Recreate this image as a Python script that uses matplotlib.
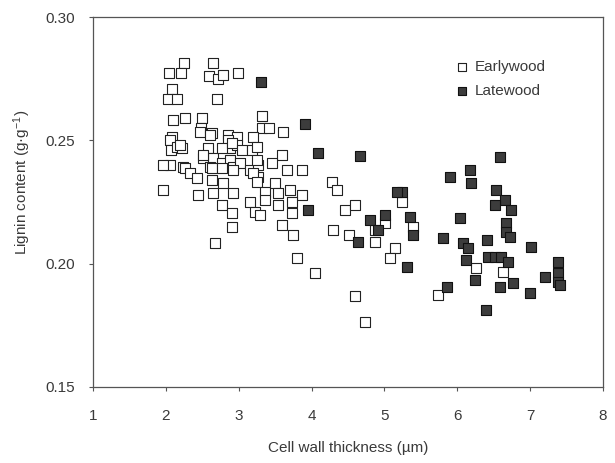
import matplotlib
matplotlib.use("Agg")
import matplotlib.pyplot as plt

plt.rcParams['font.family'] = ['Liberation Sans', 'DejaVu Sans']
plt.rcParams['mathtext.fontset'] = 'custom'
plt.rcParams['mathtext.rm'] = 'Liberation Sans'
plt.rcParams['mathtext.default'] = 'regular'

# Earlywood (open squares): cell wall thickness (um), lignin content (g/g)
ew_x = [2.244, 2.642, 2.047, 2.211, 2.591, 2.711, 2.787, 2.989, 2.084, 2.029,
        2.156, 2.705, 2.101, 2.266, 2.495, 2.477, 2.628, 2.856, 2.971, 2.080,
        3.314, 3.314, 3.418, 3.610, 3.199,
        2.056, 2.066, 2.156, 2.217, 2.056, 2.239, 2.582, 2.856, 2.879, 2.971,
        2.513, 2.650, 2.605, 2.765, 2.879, 2.925,
        2.193, 1.964, 2.262, 2.331, 2.422, 1.964, 2.444, 2.468, 2.605, 2.765,
        2.903, 3.040, 3.177, 2.513, 3.016, 2.628, 2.765, 2.925, 3.154, 3.268,
        2.628, 2.787, 2.925, 2.650, 2.765, 2.903, 2.903, 2.674, 3.154, 3.222,
        3.268,
        3.246, 3.246, 3.588, 3.451, 3.657, 3.863, 3.199, 3.246, 3.497, 3.359,
        3.542, 3.702, 3.863, 3.726, 3.359, 3.542, 3.726, 3.291, 3.588, 3.739,
        4.274, 4.343, 4.457, 4.594, 4.297, 4.512,
        3.794, 5.235, 4.868, 5.005, 5.394, 4.868, 5.143, 5.074, 6.263, 5.737,
        4.731, 4.590, 6.628, 4.050]
ew_y = [0.2816, 0.2816, 0.2773, 0.2773, 0.2762, 0.2749, 0.2766, 0.2773, 0.2710, 0.2667,
        0.2667, 0.2667, 0.2583, 0.2592, 0.2592, 0.2549, 0.2529, 0.2522, 0.2513, 0.2515,
        0.2600, 0.2549, 0.2549, 0.2536, 0.2515,
        0.2502, 0.2461, 0.2475, 0.2468, 0.2400, 0.2393, 0.2468, 0.2502, 0.2468, 0.2482,
        0.2428, 0.2428, 0.2393, 0.2407, 0.2421, 0.2393,
        0.2482, 0.2400, 0.2387, 0.2367, 0.2346, 0.2299, 0.2279, 0.2536, 0.2522, 0.2468,
        0.2488, 0.2461, 0.2461, 0.2441, 0.2407, 0.2387, 0.2387, 0.2380, 0.2380, 0.2400,
        0.2339, 0.2326, 0.2285, 0.2285, 0.2238, 0.2204, 0.2150, 0.2082, 0.2251, 0.2211,
        0.2353,
        0.2475, 0.2421, 0.2441, 0.2407, 0.2380, 0.2380, 0.2367, 0.2333, 0.2326, 0.2292,
        0.2285, 0.2299, 0.2279, 0.2251, 0.2258, 0.2238, 0.2204, 0.2197, 0.2157, 0.2118,
        0.2333, 0.2299, 0.2218, 0.2238, 0.2136, 0.2118,
        0.2021, 0.2251, 0.2136, 0.2164, 0.2150, 0.2089, 0.2062, 0.2021, 0.1981, 0.1872,
        0.1764, 0.1870, 0.1967, 0.1960]

# Latewood (filled squares)
lw_x = [3.300, 3.908, 4.091, 4.663, 3.953, 4.639, 4.800,
        6.171, 5.897, 6.195, 5.235, 5.170,
        4.914, 5.005, 5.348, 5.394, 5.303, 5.805, 6.034, 6.080, 6.148, 6.126,
        6.240, 5.852,
        6.583, 6.538, 6.652, 6.514, 6.743, 6.675, 6.675, 6.720, 6.401, 7.018,
        6.422, 6.514, 6.606, 6.697, 6.583, 6.765, 6.995, 7.383, 7.200, 7.383,
        7.383, 7.406, 6.400]
lw_y = [0.2739, 0.2568, 0.2448, 0.2437, 0.2218, 0.2089, 0.2177,
        0.2380, 0.2353, 0.2326, 0.2292, 0.2292,
        0.2136, 0.2197, 0.2190, 0.2118, 0.1987, 0.2103, 0.2184, 0.2082, 0.2062, 0.2015,
        0.1933, 0.1906,
        0.2434, 0.2299, 0.2258, 0.2238, 0.2218, 0.2164, 0.2130, 0.2109, 0.2096, 0.2069,
        0.2028, 0.2028, 0.2028, 0.2008, 0.1906, 0.1920, 0.1879, 0.2008, 0.1947, 0.1961,
        0.1927, 0.1913, 0.1810]

x_ticks = [1, 2, 3, 4, 5, 6, 7, 8]
y_ticks = [0.15, 0.20, 0.25, 0.30]
y_tick_labels = ["0.15", "0.20", "0.25", "0.30"]

txt = '#3a3a3a'
fig = plt.figure(figsize=(6.15, 4.63), dpi=100)
ax = fig.add_axes([93/615, 1 - 386.7/463, 510/615, (386.7 - 17.3)/463])

ax.scatter(ew_x, ew_y, marker='s', s=58, facecolors='white', edgecolors='#222222',
           linewidths=0.8, label='Earlywood', zorder=3)
ax.scatter(lw_x, lw_y, marker='s', s=58, facecolors='#3c3c3c', edgecolors='#111111',
           linewidths=0.8, label='Latewood', zorder=4)

ax.set_xlim(1, 8)
ax.set_ylim(0.15, 0.30)
ax.set_xticks(x_ticks)
ax.set_yticks(y_ticks)
ax.set_yticklabels(y_tick_labels)
ax.tick_params(direction='out', length=3, width=0.8, colors='#555555',
               labelcolor=txt, labelsize=11, pad=10)
ax.tick_params(axis='x', pad=13)
for sp in ax.spines.values():
    sp.set_color('#555555')
    sp.set_linewidth(0.9)

ax.set_xlabel('Cell wall thickness (µm)', fontsize=11, color=txt, labelpad=13)
ax.set_ylabel('Lignin content (g·g$^{-1}$)', fontsize=11, color=txt)
ax.yaxis.set_label_coords(-0.117, 0.554)

leg = ax.legend(loc='upper left', bbox_to_anchor=(0.697, 0.90), frameon=False,
                fontsize=11, handlelength=1.0, handletextpad=0.3, labelspacing=0.6,
                markerscale=0.85, borderaxespad=0.0)
for t in leg.get_texts():
    t.set_color(txt)

fig.savefig('out.png', dpi=100, facecolor='white')
